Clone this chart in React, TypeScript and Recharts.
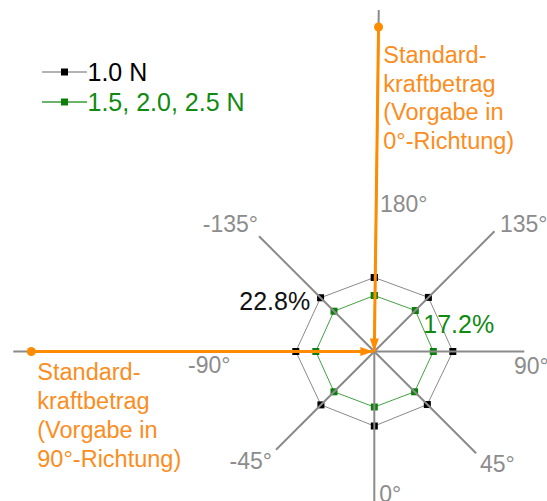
import React from 'react';
import { ScatterChart, Scatter, XAxis, YAxis, ReferenceDot, Legend } from 'recharts';

// force directions (clockwise from the top) and measured values
const directions = [180, 135, 90, 45, 0, -45, -90, -135];
const directionLabels = ['180°', '135°', '90°', '45°', '0°', '-45°', '-90°', '-135°'];
const values10N = [74, 76.5, 78.5, 75, 74.5, 75.5, 78.5, 76];
const values15to25N = [56, 58, 59, 57, 55.5, 57, 58.5, 57];
const seriesNames = ['1.0 N', '1.5, 2.0, 2.5 N'];
const percentLabels = ['22.8%', '17.2%'];
const standardText0 = ['Standard-', 'kraftbetrag', '(Vorgabe in', '0°-Richtung)'];
const standardText90 = ['Standard-', 'kraftbetrag', '(Vorgabe in', '90°-Richtung)'];

const W = 547;
const H = 501;
const ORANGE = '#ff8c00';
const ORANGE_TEXT = '#fb8d1e';
const GRAY = '#8c8c8c';
const GREEN = '#118a11';
const FONT = "'Liberation Sans', Arial, sans-serif";

// spoke lengths and a small tilt of the 180° spoke (layout only)
const spokeLength = [341.5, 170, 150, 144, 155, 139, 361, 163];
const spokeTilt = [-0.75, 0, 0, 0, 0, 0, 0, 0];

const toXY = (deg: number, r: number, tilt = 0) => {
  const t = ((deg - 90 + tilt) * Math.PI) / 180;
  return { x: r * Math.cos(t), y: r * Math.sin(t) };
};

const polygon = (vals: number[]) => {
  const pts = directions.map((d, i) => toXY(d, vals[i]));
  return [...pts, pts[0]];
};

const spokes = directions.map((d, i) => [{ x: 0, y: 0 }, toXY(d, spokeLength[i], spokeTilt[i])]);

const arrow0 = [
  { ...toXY(180, 324.5, spokeTilt[0]), kind: 'start', ux: 0, uy: 1 },
  { x: 0, y: 0, kind: 'tip', ux: 0, uy: 1 },
];
const arrow90 = [
  { ...toXY(-90, 343), kind: 'start', ux: 1, uy: 0 },
  { x: -1, y: 0, kind: 'tip', ux: 1, uy: 0 },
];

type Note = { lines: string[]; dx: number; dy: number; color: string; anchor?: 'start' | 'end'; size?: number; lh?: number };

// label anchors, offsets from the centre in px
const labelPos: [number, number, 'start' | 'end'][] = [
  [5.7, 139.8, 'start'],
  [125.7, 119.5, 'start'],
  [139.7, -22, 'start'],
  [105.7, -120.5, 'start'],
  [5, -150, 'start'],
  [-102.3, -117, 'end'],
  [-186.3, -21.5, 'start'],
  [-116.3, 119.5, 'end'],
];

const notes: Note[] = [
  ...directionLabels.map((t, i) => ({ lines: [t], dx: labelPos[i][0], dy: labelPos[i][1], anchor: labelPos[i][2], color: GRAY })),
  { lines: [percentLabels[0]], dx: -135, dy: 41.5, color: '#111', size: 25 },
  { lines: [percentLabels[1]], dx: 49, dy: 18.5, color: GREEN, size: 25 },
  { lines: standardText0, dx: 9, dy: 288.5, color: ORANGE_TEXT, lh: 28.5, size: 23.5 },
  { lines: standardText90, dx: -337, dy: -28, color: ORANGE_TEXT, lh: 29, size: 23.5 },
];

const renderNote = (n: Note) => (p: any) => {
  const vb = p.viewBox || { x: 0, y: 0, width: 0, height: 0 };
  const x = vb.x + (vb.width || 0) / 2;
  const y = vb.y + (vb.height || 0) / 2;
  return (
    <text x={x} y={y} fill={n.color} fontSize={n.size || 23} fontFamily={FONT} textAnchor={n.anchor || 'start'}>
      {n.lines.map((l, i) => (
        <tspan key={i} x={x} dy={i === 0 ? 0 : n.lh}>
          {l}
        </tspan>
      ))}
    </text>
  );
};

const square = (color: string) => (p: any) => <rect x={p.cx - 3.5} y={p.cy - 3.5} width={7} height={7} fill={color} />;
const noDot = () => <g />;

const arrowShape = (p: any) => {
  const { cx, cy, payload } = p;
  if (payload.kind === 'start') return <circle cx={cx} cy={cy} r={4.5} fill={ORANGE} />;
  const len = 13;
  const half = 4.5;
  const bx = cx - payload.ux * len;
  const by = cy - payload.uy * len;
  const pts = `${cx},${cy} ${bx - payload.uy * half},${by + payload.ux * half} ${bx + payload.uy * half},${by - payload.ux * half}`;
  return <polygon points={pts} fill={ORANGE} />;
};

const legendRows = [
  { name: seriesNames[0], line: '#9a9a9a', dot: '#000', text: '#000' },
  { name: seriesNames[1], line: '#3a9a3a', dot: '#0a800a', text: GREEN },
];

const renderLegend = () => (
  <div style={{ fontFamily: FONT }}>
    {legendRows.map((r) => (
      <div key={r.name} style={{ display: 'flex', alignItems: 'center', height: 30 }}>
        <svg width={46} height={30}>
          <line x1={0} y1={15} x2={45} y2={15} stroke={r.line} strokeWidth={1.5} />
          <rect x={19} y={11.5} width={7} height={7} fill={r.dot} />
        </svg>
        <span style={{ fontSize: 25, color: r.text, whiteSpace: 'nowrap' }}>{r.name}</span>
      </div>
    ))}
  </div>
);

export default function App() {
  return (
    <div style={{ width: W, height: H, background: '#fff', fontFamily: FONT }}>
      <style>{'body{margin:0}'}</style>
      <ScatterChart width={W} height={H} margin={{ top: 0, right: 0, bottom: 0, left: 0 }}>
        <XAxis type="number" dataKey="x" domain={[-374.3, 172.7]} allowDataOverflow hide />
        <YAxis type="number" dataKey="y" domain={[-149.5, 351.5]} allowDataOverflow hide />
        <Legend
          layout="horizontal"
          align="center"
          verticalAlign="middle"
          wrapperStyle={{ left: 41.5, top: 57.3, width: 'auto' }}
          content={renderLegend}
        />
        <Scatter data={polygon(values10N)} line={{ stroke: '#8a8a8a', strokeWidth: 1 }} shape={square('#000')} isAnimationActive={false} />
        <Scatter data={polygon(values15to25N)} line={{ stroke: '#44a044', strokeWidth: 1 }} shape={square('#0a800a')} isAnimationActive={false} />
        {spokes.map((s, i) => (
          <Scatter key={i} data={s} line={{ stroke: '#8a8a8a', strokeWidth: 2 }} shape={noDot} isAnimationActive={false} />
        ))}
        <Scatter data={arrow0} line={{ stroke: ORANGE, strokeWidth: 3 }} shape={arrowShape} isAnimationActive={false} />
        <Scatter data={arrow90} line={{ stroke: ORANGE, strokeWidth: 3 }} shape={arrowShape} isAnimationActive={false} />
        {notes.map((n, i) => (
          <ReferenceDot key={i} x={n.dx} y={n.dy} r={0} ifOverflow="visible" fill="none" stroke="none" label={renderNote(n)} />
        ))}
      </ScatterChart>
    </div>
  );
}
